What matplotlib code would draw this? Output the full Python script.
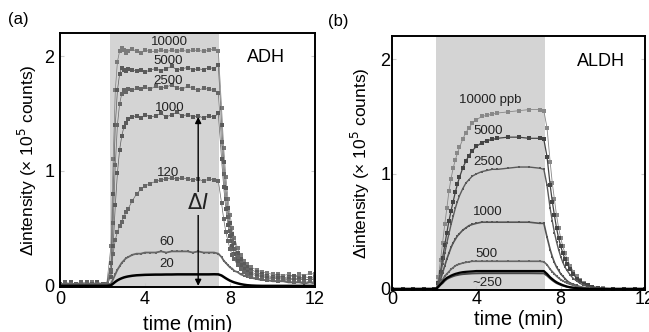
import matplotlib
matplotlib.use("Agg")
import matplotlib.pyplot as plt

plt.rcParams['font.family'] = ['Liberation Sans', 'DejaVu Sans']

# ---- panel (a): ADH ----
t_a = [0, 0.25, 0.5, 0.75, 1.0, 1.25, 1.5, 1.75, 2.0, 2.2,
       2.4, 2.5, 2.6, 2.7, 2.8, 2.9, 3.0, 3.1, 3.2, 3.4,
       3.6, 3.8, 4.0, 4.25, 4.5, 4.75, 5.0, 5.25, 5.5, 5.75,
       6.0, 6.25, 6.5, 6.75, 7.0, 7.25, 7.45, 7.6, 7.7, 7.8,
       7.9, 8.0, 8.1, 8.2, 8.35, 8.5, 8.65, 8.8, 9.0, 9.25,
       9.5, 9.75, 10.0, 10.25, 10.5, 10.75, 11.0, 11.25, 11.5, 11.75,
       12.0]

adh_10000 = [0.01, 0.02, 0.00, 0.02, 0.01, 0.02, 0.03, 0.01, 0.02, 0.02,
             0.35, 1.10, 1.70, 1.95, 2.04, 2.07, 2.05, 2.03, 2.04, 2.06,
             2.04, 2.03, 2.05, 2.04, 2.04, 2.05, 2.04, 2.05, 2.04, 2.05,
             2.04, 2.05, 2.05, 2.04, 2.05, 2.06, 2.04, 1.55, 1.20, 0.95,
             0.76, 0.62, 0.50, 0.42, 0.33, 0.27, 0.22, 0.19, 0.16, 0.14,
             0.12, 0.11, 0.10, 0.10, 0.09, 0.10, 0.08, 0.10, 0.09, 0.11,
             0.10]
adh_5000 = [0.02, 0.01, 0.03, 0.01, 0.02, 0.00, 0.02, 0.03, 0.01, 0.02,
            0.20, 0.80, 1.40, 1.70, 1.84, 1.90, 1.88, 1.87, 1.89, 1.88,
            1.87, 1.88, 1.86, 1.88, 1.89, 1.87, 1.89, 1.91, 1.88, 1.89,
            1.90, 1.88, 1.89, 1.88, 1.90, 1.89, 1.92, 1.40, 1.08, 0.85,
            0.68, 0.55, 0.45, 0.37, 0.29, 0.23, 0.19, 0.16, 0.14, 0.12,
            0.10, 0.09, 0.08, 0.09, 0.07, 0.08, 0.09, 0.07, 0.08, 0.07,
            0.08]
adh_2500 = [0.01, 0.03, 0.02, 0.01, 0.02, 0.03, 0.01, 0.02, 0.02, 0.01,
            0.12, 0.55, 1.05, 1.40, 1.58, 1.67, 1.70, 1.69, 1.71, 1.70,
            1.72, 1.71, 1.73, 1.71, 1.74, 1.72, 1.73, 1.75, 1.72, 1.71,
            1.74, 1.72, 1.70, 1.72, 1.71, 1.70, 1.68, 1.25, 0.97, 0.76,
            0.60, 0.48, 0.39, 0.32, 0.25, 0.20, 0.16, 0.14, 0.12, 0.10,
            0.09, 0.08, 0.07, 0.08, 0.06, 0.07, 0.06, 0.07, 0.05, 0.06,
            0.06]
adh_1000 = [0.02, 0.01, 0.02, 0.02, 0.00, 0.02, 0.01, 0.03, 0.02, 0.01,
            0.08, 0.35, 0.70, 0.98, 1.18, 1.30, 1.38, 1.42, 1.45, 1.47,
            1.48, 1.46, 1.49, 1.47, 1.48, 1.50, 1.47, 1.49, 1.51, 1.48,
            1.49, 1.47, 1.48, 1.46, 1.48, 1.47, 1.50, 1.10, 0.86, 0.67,
            0.53, 0.43, 0.35, 0.28, 0.22, 0.18, 0.15, 0.12, 0.10, 0.09,
            0.08, 0.07, 0.06, 0.07, 0.05, 0.06, 0.05, 0.06, 0.05, 0.06,
            0.05]
adh_120 = [0.01, 0.02, 0.02, 0.01, 0.03, 0.02, 0.01, 0.02, 0.01, 0.02,
           0.14, 0.28, 0.40, 0.47, 0.52, 0.56, 0.60, 0.64, 0.67, 0.74,
           0.80, 0.84, 0.87, 0.89, 0.91, 0.92, 0.93, 0.94, 0.93, 0.94,
           0.93, 0.92, 0.93, 0.91, 0.93, 0.92, 0.91, 0.72, 0.58, 0.47,
           0.39, 0.32, 0.27, 0.23, 0.18, 0.15, 0.12, 0.10, 0.08, 0.07,
           0.06, 0.05, 0.05, 0.04, 0.05, 0.04, 0.03, 0.04, 0.03, 0.04,
           0.03]
adh_60 = [0.01, 0.02, 0.01, 0.02, 0.02, 0.01, 0.02, 0.01, 0.02, 0.01,
          0.02, 0.06, 0.10, 0.14, 0.17, 0.20, 0.22, 0.24, 0.25, 0.27,
          0.28, 0.28, 0.29, 0.29, 0.29, 0.30, 0.29, 0.30, 0.30, 0.30,
          0.30, 0.29, 0.30, 0.29, 0.29, 0.29, 0.28, 0.25, 0.22, 0.20,
          0.18, 0.16, 0.15, 0.13, 0.12, 0.10, 0.09, 0.08, 0.07, 0.06,
          0.05, 0.05, 0.04, 0.04, 0.04, 0.03, 0.03, 0.03, 0.02, 0.03,
          0.02]
adh_20 = [0.0, 0.0, 0.0, 0.0, 0.0, 0.0, 0.0, 0.0, 0.0, 0.0,
          0.005, 0.02, 0.035, 0.048, 0.058, 0.066, 0.073, 0.078, 0.082, 0.088,
          0.092, 0.094, 0.096, 0.097, 0.098, 0.098, 0.099, 0.099, 0.100, 0.100,
          0.100, 0.100, 0.100, 0.100, 0.100, 0.101, 0.100, 0.090, 0.078, 0.066,
          0.055, 0.045, 0.037, 0.030, 0.022, 0.015, 0.010, 0.006, 0.003, 0.001,
          0.0, 0.0, 0.0, 0.0, 0.0, 0.0, 0.0, 0.0, 0.0, 0.0,
          0.0]

labels_a = ["10000", "5000", "2500", "1000", "120", "60", "20"]
label_x_a = [5.15, 5.1, 5.1, 5.15, 5.1, 5.0, 5.0]
label_y_a = [2.12, 1.96, 1.78, 1.55, 0.98, 0.38, 0.19]

# ---- panel (b): ALDH ----
t_b = [0, 0.5, 1.0, 1.5, 2.0, 2.1, 2.2, 2.3, 2.4, 2.5,
       2.6, 2.7, 2.8, 2.9, 3.0, 3.1, 3.2, 3.35, 3.5, 3.65,
       3.8, 4.0, 4.25, 4.5, 4.75, 5.0, 5.5, 6.0, 6.5, 7.0,
       7.2, 7.35, 7.5, 7.6, 7.7, 7.8, 7.9, 8.0, 8.1, 8.2,
       8.3, 8.45, 8.6, 8.75, 8.9, 9.1, 9.3, 9.5, 9.75, 10.0,
       10.5, 11.0, 11.5, 12.0]

aldh_10000 = [0.0, 0.0, 0.0, 0.0, 0.0, 0.0, 0.10, 0.25, 0.40, 0.56,
              0.70, 0.85, 0.96, 1.05, 1.12, 1.18, 1.23, 1.30, 1.36, 1.40,
              1.44, 1.47, 1.50, 1.51, 1.52, 1.53, 1.54, 1.55, 1.56, 1.56,
              1.55, 1.40, 1.10, 0.92, 0.78, 0.64, 0.53, 0.44, 0.37, 0.31,
              0.26, 0.20, 0.15, 0.11, 0.08, 0.05, 0.03, 0.02, 0.01, 0.01,
              0.0, 0.0, 0.0, 0.0]
aldh_5000 = [0.0, 0.0, 0.0, 0.0, 0.0, 0.0, 0.05, 0.15, 0.27, 0.38,
             0.49, 0.59, 0.68, 0.76, 0.84, 0.91, 0.97, 1.05, 1.11, 1.16,
             1.20, 1.24, 1.27, 1.29, 1.30, 1.31, 1.32, 1.32, 1.31, 1.31,
             1.30, 1.15, 0.90, 0.76, 0.64, 0.53, 0.44, 0.37, 0.31, 0.26,
             0.22, 0.17, 0.13, 0.09, 0.07, 0.04, 0.03, 0.02, 0.01, 0.0,
             0.0, 0.0, 0.0, 0.0]
aldh_2500 = [0.0, 0.0, 0.0, 0.0, 0.0, 0.0, 0.05, 0.13, 0.22, 0.31,
             0.40, 0.48, 0.56, 0.63, 0.70, 0.76, 0.81, 0.87, 0.92, 0.95,
             0.98, 1.00, 1.02, 1.03, 1.04, 1.04, 1.05, 1.06, 1.06, 1.05,
             1.04, 0.90, 0.70, 0.59, 0.49, 0.41, 0.34, 0.28, 0.23, 0.19,
             0.16, 0.12, 0.09, 0.07, 0.05, 0.03, 0.02, 0.01, 0.01, 0.0,
             0.0, 0.0, 0.0, 0.0]
aldh_1000 = [0.0, 0.0, 0.0, 0.0, 0.0, 0.0, 0.03, 0.08, 0.14, 0.20,
             0.26, 0.31, 0.36, 0.40, 0.43, 0.46, 0.48, 0.51, 0.53, 0.55,
             0.56, 0.57, 0.58, 0.58, 0.58, 0.58, 0.58, 0.58, 0.58, 0.57,
             0.57, 0.45, 0.34, 0.28, 0.23, 0.19, 0.16, 0.13, 0.11, 0.09,
             0.07, 0.05, 0.04, 0.03, 0.02, 0.01, 0.0, 0.0, 0.0, 0.0,
             0.0, 0.0, 0.0, 0.0]
aldh_500 = [0.0, 0.0, 0.0, 0.0, 0.0, 0.0, 0.02, 0.05, 0.08, 0.11,
            0.13, 0.15, 0.17, 0.185, 0.20, 0.21, 0.215, 0.225, 0.23, 0.235,
            0.24, 0.24, 0.24, 0.24, 0.24, 0.24, 0.24, 0.24, 0.24, 0.24,
            0.235, 0.21, 0.17, 0.15, 0.13, 0.11, 0.095, 0.08, 0.07, 0.06,
            0.05, 0.04, 0.03, 0.02, 0.015, 0.01, 0.005, 0.0, 0.0, 0.0,
            0.0, 0.0, 0.0, 0.0]
aldh_250a = [0.0, 0.0, 0.0, 0.0, 0.0, 0.0, 0.02, 0.04, 0.06, 0.08,
             0.095, 0.105, 0.115, 0.123, 0.13, 0.135, 0.14, 0.145, 0.148, 0.15,
             0.152, 0.155, 0.155, 0.155, 0.155, 0.155, 0.155, 0.155, 0.155, 0.155,
             0.155, 0.13, 0.10, 0.085, 0.07, 0.058, 0.048, 0.04, 0.032, 0.026,
             0.02, 0.014, 0.01, 0.006, 0.004, 0.002, 0.0, 0.0, 0.0, 0.0,
             0.0, 0.0, 0.0, 0.0]
aldh_250b = [0.0, 0.0, 0.0, 0.0, 0.0, 0.0, 0.015, 0.035, 0.05, 0.07,
             0.085, 0.095, 0.103, 0.11, 0.116, 0.12, 0.124, 0.128, 0.13, 0.132,
             0.134, 0.135, 0.136, 0.136, 0.136, 0.136, 0.136, 0.136, 0.136, 0.135,
             0.135, 0.115, 0.09, 0.075, 0.062, 0.05, 0.042, 0.034, 0.028, 0.022,
             0.017, 0.012, 0.008, 0.005, 0.003, 0.001, 0.0, 0.0, 0.0, 0.0,
             0.0, 0.0, 0.0, 0.0]

labels_b = ["10000 ppb", "5000", "2500", "1000", "500", "~250"]
label_x_b = [4.65, 4.55, 4.55, 4.55, 4.5, 4.5]
label_y_b = [1.64, 1.37, 1.10, 0.67, 0.30, 0.05]

shade = '#d4d4d4'

fig = plt.figure(figsize=(6.49, 3.32), dpi=100)
ax1 = fig.add_axes([0.0925, 0.1355, 0.393, 0.765])
ax2 = fig.add_axes([0.604, 0.1265, 0.390, 0.765])

# panel (a) - dotted traces, thin joining line
ax1.axvspan(2.35, 7.5, color=shade, zorder=0, lw=0)
for y, c in [(adh_10000, '#7a7a7a'), (adh_5000, '#5a5a5a'), (adh_2500, '#666666'),
             (adh_1000, '#5a5a5a'), (adh_120, '#666666')]:
    ax1.plot(t_a, y, '-s', color=c, ms=2.4, lw=0.5, mew=0)
ax1.plot(t_a, adh_60, '-s', color='#666666', ms=2.0, lw=1.3, mew=0)
ax1.plot(t_a, adh_20, '-', color='black', lw=1.8)

for s, x, y in zip(labels_a, label_x_a, label_y_a):
    ax1.text(x, y, s, ha='center', va='center', fontsize=9.5, color='#222222')

ax1.annotate('', xy=(6.5, 0.0), xytext=(6.5, 1.47),
             arrowprops=dict(arrowstyle='<|-|>', color='black', lw=1.0,
                             mutation_scale=9, shrinkA=0, shrinkB=0))
ax1.text(6.5, 0.72, r'$\Delta I$', ha='center', va='center', fontsize=15,
         color='#222222',
         bbox=dict(facecolor=shade, edgecolor='none', pad=1))
ax1.text(9.7, 1.99, 'ADH', ha='center', va='center', fontsize=13)
ax1.set_ylabel('Δintensity (× 10$^5$ counts)', fontsize=12.5, labelpad=4)
ax1.set_xlabel('time (min)', fontsize=14.5, labelpad=5)
ax1.tick_params(axis='x', pad=3)
ax1.tick_params(axis='y', pad=4)

# panel (b)
ax2.axvspan(2.1, 7.25, color=shade, zorder=0, lw=0)
ax2.plot(t_b, aldh_10000, '-s', color='#888888', ms=2.2, lw=0.6, mew=0)
ax2.plot(t_b, aldh_5000, '-s', color='#444444', ms=2.2, lw=0.9, mew=0)
ax2.plot(t_b, aldh_2500, '-s', color='#5a5a5a', ms=2.0, lw=1.0, mew=0)
ax2.plot(t_b, aldh_1000, '-s', color='#555555', ms=2.0, lw=1.2, mew=0)
ax2.plot(t_b, aldh_500, '-s', color='#666666', ms=2.0, lw=1.2, mew=0)
ax2.plot(t_b, aldh_250b, '-', color='#444444', lw=1.4)
ax2.plot(t_b, aldh_250a, '-', color='black', lw=1.6)

for s, x, y in zip(labels_b, label_x_b, label_y_b):
    ax2.text(x, y, s, ha='center', va='center', fontsize=9.5, color='#222222')
ax2.text(9.9, 1.98, 'ALDH', ha='center', va='center', fontsize=13)
ax2.set_ylabel('Δintensity (× 10$^5$ counts)', fontsize=12.5, labelpad=6)
ax2.set_xlabel('time (min)', fontsize=14.5, labelpad=1)
ax2.tick_params(axis='x', pad=1)
ax2.tick_params(axis='y', pad=1)

for ax in (ax1, ax2):
    ax.set_xlim(0, 12)
    ax.set_ylim(-0.01, 2.2)
    ax.set_xticks([0, 4, 8, 12])
    ax.set_yticks([0, 1, 2])
    ax.tick_params(direction='in', length=3, width=0.8, labelsize=13,
                   right=True, top=False, colors='#cccccc', labelcolor='black')
    for sp in ax.spines.values():
        sp.set_linewidth(1.4)

fig.text(0.012, 0.94, '(a)', fontsize=12, va='center')
fig.text(0.505, 0.934, '(b)', fontsize=12, va='center')

fig.savefig('out.png', dpi=100)
